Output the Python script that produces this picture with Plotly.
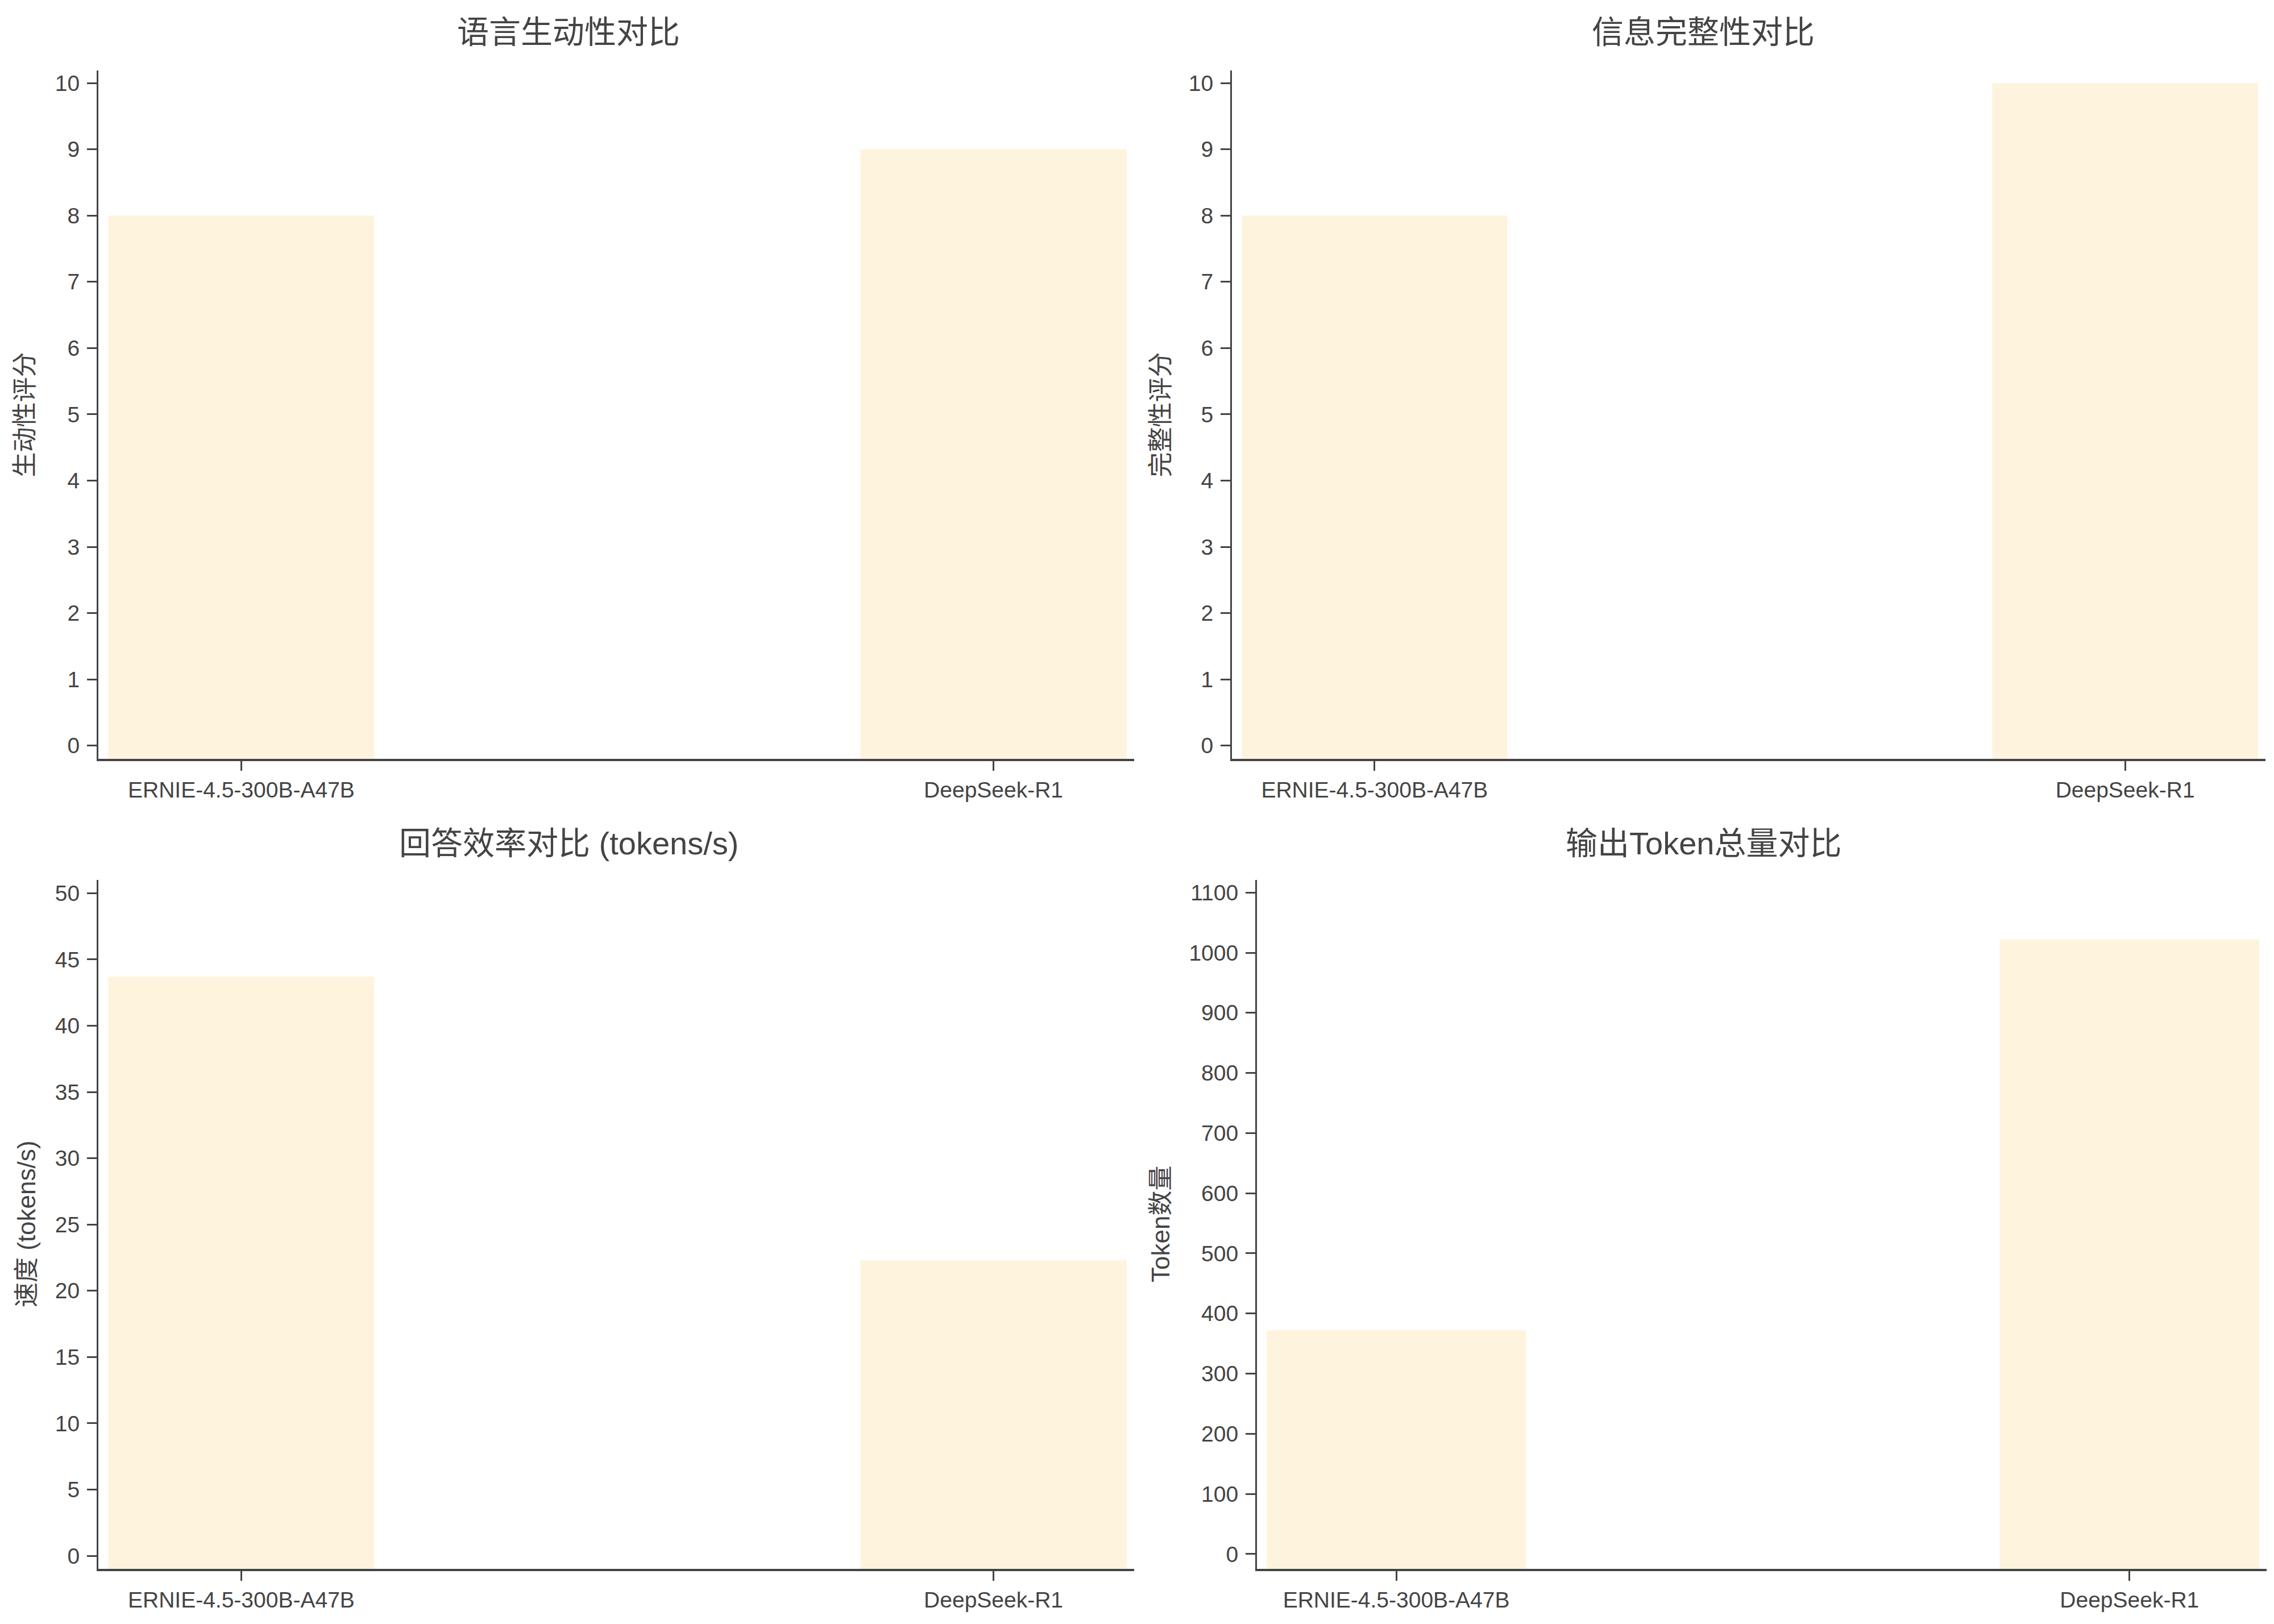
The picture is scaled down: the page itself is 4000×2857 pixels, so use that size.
import plotly.graph_objects as go

models = ["ERNIE-4.5-300B-A47B", "DeepSeek-R1"]

vividness = [8, 9]
completeness = [8, 10]
speed = [43.7, 22.3]
tokens = [372, 1022]

titles = ["语言生动性对比", "信息完整性对比", "回答效率对比 (tokens/s)", "输出Token总量对比"]
y_titles = ["生动性评分", "完整性评分", "速度 (tokens/s)", "Token数量"]

BAR_COLOR = "#FEF3DD"
TEXT = "#444444"
FONT = "Liberation Sans, Arial, Noto Sans CJK SC, sans-serif"

# the page body has an 8px margin, so the figure is a bit smaller than the window
OFF = 8
W, H = 4000 - OFF, 2857 - OFF

# panel geometry in screen pixels: (x0, x1, y_top, y_bottom)
panels = [
    (173, 1995, 124, 1335),
    (2167, 3985, 124, 1335),
    (173, 1995, 1548, 2760),
    (2211, 3987, 1548, 2760),
]
y_ranges = [(-0.2, 10.19), (-0.2, 10.19), (-0.98, 51), (-24.6, 1121)]
y_dticks = [1, 1, 5, 100]
series = [vividness, completeness, speed, tokens]


def px_x(p):
    return (p - OFF) / W


def px_y(p):
    return 1 - (p - OFF) / H


fig = go.Figure()

for i, (vals, (x0, x1, yt, yb), (ymin, ymax), dt) in enumerate(
    zip(series, panels, y_ranges, y_dticks)
):
    n = "" if i == 0 else str(i + 1)
    # bars start at the bottom of the axis range so they touch the x axis line
    fig.add_trace(
        go.Bar(
            x=models,
            y=[v - ymin for v in vals],
            base=ymin,
            width=0.354,
            marker=dict(color=BAR_COLOR, line=dict(width=0)),
            customdata=vals,
            hovertemplate="%{x}: %{customdata}<extra></extra>",
            xaxis="x" + n,
            yaxis="y" + n,
            showlegend=False,
        )
    )
    fig.update_layout(
        **{
            "xaxis" + n: dict(
                domain=[px_x(x0), px_x(x1)],
                anchor="y" + n,
                range=[-0.19, 1.187],
                showline=True,
                linecolor=TEXT,
                linewidth=4,
                ticks="outside",
                ticklen=17,
                tickwidth=3,
                tickcolor=TEXT,
                showgrid=False,
                zeroline=False,
                tickfont=dict(size=39, color=TEXT, family=FONT),
            ),
            "yaxis" + n: dict(
                domain=[px_y(yb), px_y(yt)],
                anchor="x" + n,
                range=[ymin, ymax],
                dtick=dt,
                tick0=0,
                showline=True,
                linecolor=TEXT,
                linewidth=3,
                ticks="outside",
                ticklen=17,
                tickwidth=3,
                tickcolor=TEXT,
                ticklabelstandoff=5,
                showgrid=False,
                zeroline=False,
                tickfont=dict(size=39, color=TEXT, family=FONT),
            ),
        }
    )

annotations = []
title_pos = [(1000, 57), (2996, 57), (1000, 1483), (2996, 1483)]
for t, (px, py) in zip(titles, title_pos):
    annotations.append(
        dict(
            text=t, x=px_x(px), y=px_y(py), xref="paper", yref="paper",
            xanchor="center", yanchor="middle", showarrow=False,
            font=dict(size=56, color=TEXT, family=FONT),
        )
    )
ytitle_x = [43, 2041, 46, 2041]
for t, px, (x0, x1, yt, yb) in zip(y_titles, ytitle_x, panels):
    annotations.append(
        dict(
            text=t, x=px_x(px), y=px_y((yt + yb) / 2), xref="paper", yref="paper",
            xanchor="center", yanchor="middle", showarrow=False, textangle=-90,
            font=dict(size=44, color=TEXT, family=FONT),
        )
    )

fig.update_layout(
    width=W,
    height=H,
    margin=dict(l=0, r=0, t=0, b=0),
    paper_bgcolor="white",
    plot_bgcolor="white",
    bargap=0.646,
    annotations=annotations,
    font=dict(family=FONT, color=TEXT),
)

fig.write_html("out.html")
